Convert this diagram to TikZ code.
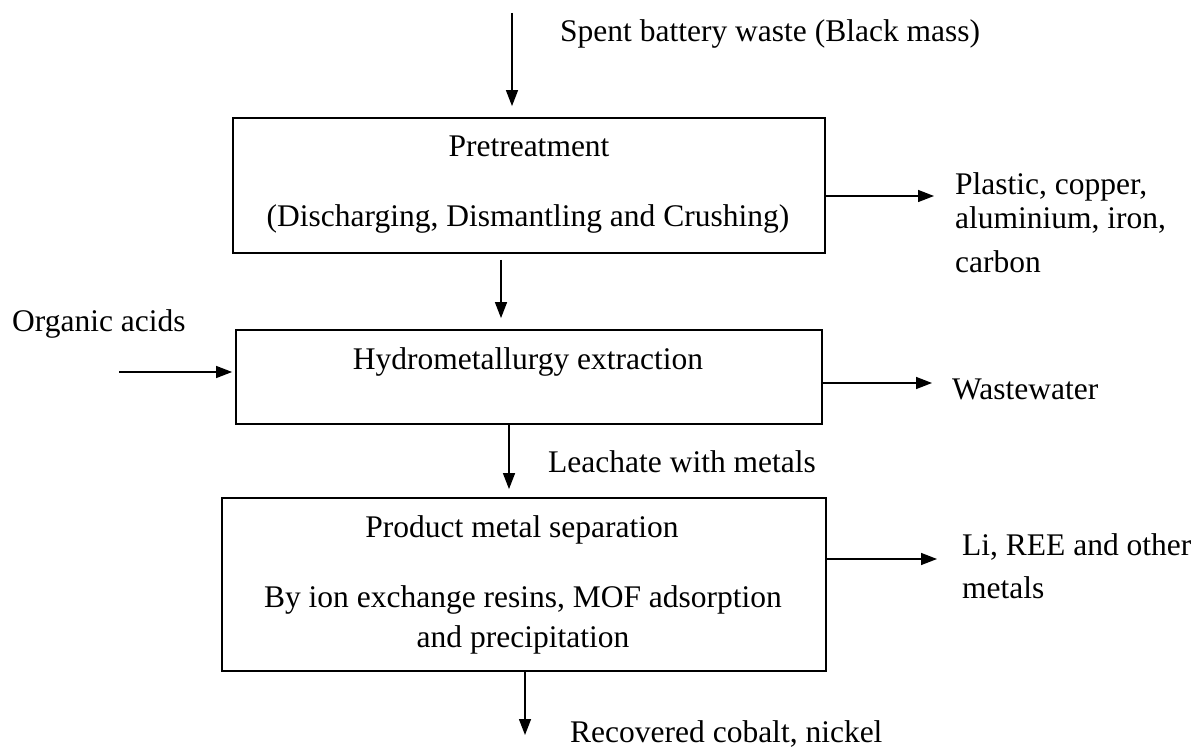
\documentclass[tikz,border=0pt]{standalone}
\usepackage{fontspec}
\setmainfont{Liberation Serif}
\usetikzlibrary{arrows.meta}
\begin{document}
\begin{tikzpicture}[x=1pt,y=-1pt,
  boxnode/.style={draw=black, line width=1.8pt, inner sep=0pt},
  txt/.style={inner sep=0pt, font=\fontsize{31.5}{37}\selectfont},
  arr/.style={line width=1.4pt, -{Triangle[length=16pt,width=12pt]}}]
\useasboundingbox (0,0) rectangle (1203,751);
% boxes
\node[boxnode, minimum width=592pt, minimum height=135pt] (pre) at (529,185.5) {};
\node[boxnode, minimum width=586pt, minimum height=94pt] (hyd) at (529,377) {};
\node[boxnode, minimum width=604pt, minimum height=173pt] (prod) at (524,584.5) {};
% box texts
\node[txt, anchor=base] (pret) at (529,157) {Pretreatment};
\node[txt, anchor=base] (dist) at (528,227) {(Discharging, Dismantling and Crushing)};
\node[txt, anchor=base] (hydt) at (528,370) {Hydrometallurgy extraction};
\node[txt, anchor=base] (prodt) at (522,537) {Product metal separation};
\node[txt, anchor=base] (byt) at (523,607) {By ion exchange resins, MOF adsorption};
\node[txt, anchor=base] (andt) at (523,647) {and precipitation};
% outside texts
\node[txt, anchor=base west] (spent) at (560,42) {Spent battery waste (Black mass)};
\node[txt, anchor=base west] (pl1) at (955,195) {Plastic, copper,};
\node[txt, anchor=base west] (pl2) at (955,229) {aluminium, iron,};
\node[txt, anchor=base west] (pl3) at (955,273) {carbon};
\node[txt, anchor=base west] (org) at (12,332) {Organic acids};
\node[txt, anchor=base west] (ww) at (952,400) {Wastewater};
\node[txt, anchor=base west] (lea) at (548,472) {Leachate with metals};
\node[txt, anchor=base west] (li1) at (962,555) {Li, REE and other};
\node[txt, anchor=base west] (li2) at (962,598) {metals};
\node[txt, anchor=base west] (rec) at (570,742) {Recovered cobalt, nickel};
% helper coordinates
\coordinate (in0) at (512,13);
\coordinate (xa) at (501,0);
\coordinate (xb) at (509,0);
\coordinate (xc) at (525,0);
\coordinate (orgs) at (119,372);
\coordinate (out1) at (934,196);
\coordinate (out2) at (932,383);
\coordinate (out3) at (937,559);
\coordinate (outb) at (525,735);
% connectors
\draw[arr, shorten >=11pt] (in0) -- (in0 |- pre.north);
\draw[arr, shorten <=6pt, shorten >=11pt] (pre.south -| xa) -- (hyd.north -| xa);
\draw[arr, shorten >=8pt] (hyd.south -| xb) -- (prod.north -| xb);
\draw[arr] (prod.south -| xc) -- (outb);
\draw[arr, shorten >=3pt] (orgs) -- (orgs -| hyd.west);
\draw[arr] (out1 -| pre.east) -- (out1);
\draw[arr] (out2 -| hyd.east) -- (out2);
\draw[arr] (out3 -| prod.east) -- (out3);
\end{tikzpicture}
\end{document}
